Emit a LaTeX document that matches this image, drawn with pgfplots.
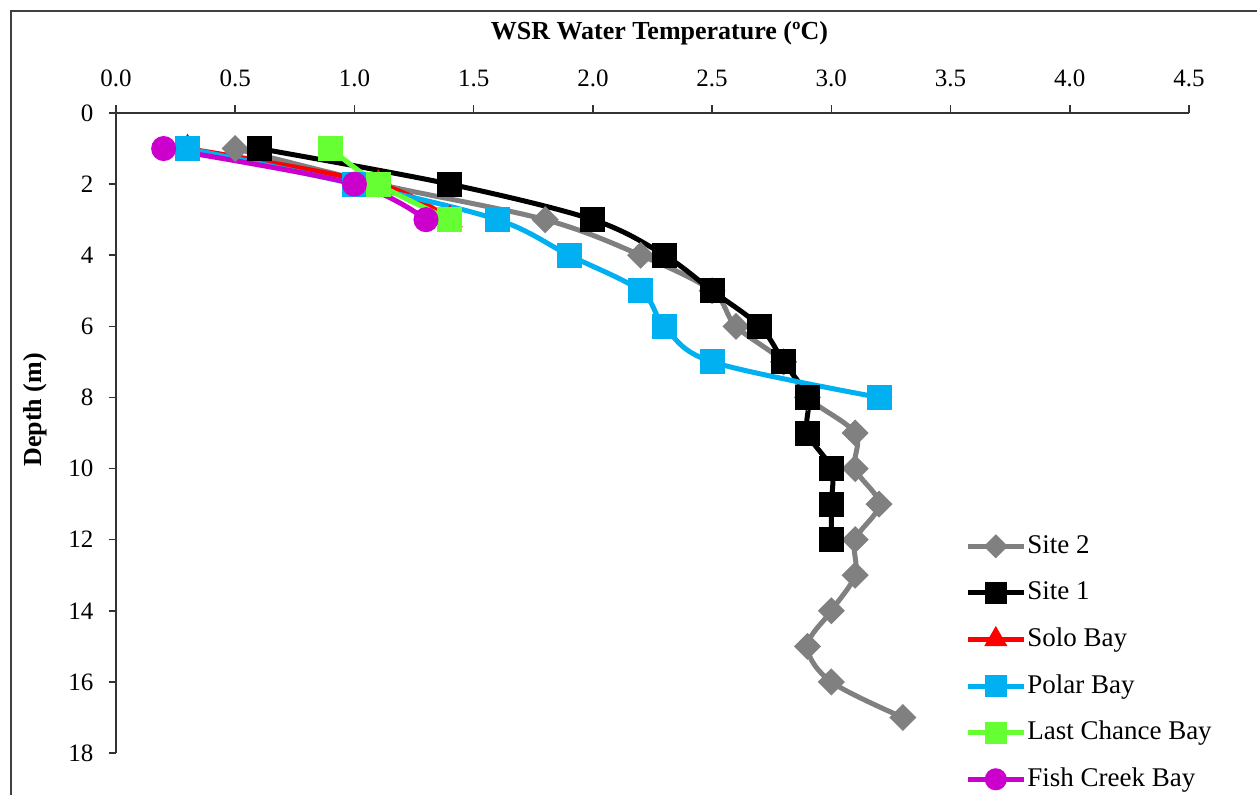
\documentclass[border=0pt]{standalone}
\usepackage{fontspec}
\setmainfont{Liberation Serif}
\usepackage{pgfplots}
\pgfplotsset{compat=1.18}
\definecolor{cgray}{HTML}{808080}
\definecolor{cred}{HTML}{FF0000}
\definecolor{cblue}{HTML}{00B0F0}
\definecolor{cgreen}{HTML}{66FF33}
\definecolor{cmag}{HTML}{CC00CC}
\begin{document}
\begin{tikzpicture}
\useasboundingbox (0,0) rectangle (628.5pt,-397.5pt);
\clip (0,0) rectangle (628.5pt,-397.5pt);
\draw[line width=0.9pt, black!75] (5.5pt,-5.5pt) rectangle (700pt,-500pt);
\begin{axis}[
  at={(58pt,-56.5pt)}, anchor=north west,
  scale only axis, width=536.5pt, height=320pt,
  xmin=0, xmax=4.5, ymin=0, ymax=18,
  y dir=reverse,
  axis x line=top, axis y line=left,
  axis line style={-, line width=0.75pt, black!80},
  xtick={0,0.5,1,1.5,2,2.5,3,3.5,4,4.5},
  ytick={0,2,4,6,8,10,12,14,16,18},
  tick align=outside, major tick length=3.75pt,
  tick style={line width=0.75pt, black!80},
  xticklabel pos=upper,
  xticklabel style={/pgf/number format/fixed, /pgf/number format/fixed zerofill, /pgf/number format/precision=1},
  /pgf/number format/assume math mode=true,
  ticklabel style={font=\fontsize{12.5}{14}\selectfont},
  xticklabel shift=6pt, yticklabel shift=4pt,
  legend style={draw=none, fill=none, at={(axis cs:3.535,11.64)}, anchor=north west,
    font=\fontsize{13.5}{16}\selectfont, row sep=8.3pt,
    nodes={inner ysep=1pt, inner xsep=0.5pt, text height=10pt, text depth=3pt}},
  legend cell align=left,
  legend image code/.code={\draw[mark repeat=2,mark phase=2, every mark/.append style={scale=0.85}] plot coordinates {(0pt,0pt) (14pt,0pt) (28pt,0pt)};},
  every axis plot/.append style={line width=2.5pt, smooth, tension=0.55},
]
\addplot[cgray, mark=square*, mark size=3.54pt, mark options={solid, rotate=45, fill=cgray}] coordinates {
(0.5,1) (1.1,2) (1.8,3) (2.2,4) (2.5,5) (2.6,6) (2.8,7) (2.9,8) (3.1,9) (3.1,10) (3.2,11) (3.1,12) (3.1,13) (3.0,14) (2.9,15) (3.0,16) (3.3,17)};
\addlegendentry{Site 2}
\addplot[black, mark=square*, mark size=5pt, mark options={solid, fill=black}] coordinates {
(0.6,1) (1.4,2) (2.0,3) (2.3,4) (2.5,5) (2.7,6) (2.8,7) (2.9,8) (2.9,9) (3.0,10) (3.0,11) (3.0,12)};
\addlegendentry{Site 1}
\addplot[cred, mark=triangle*, mark size=5pt, mark options={solid, fill=cred}] coordinates {
(0.3,1) (1.1,2) (1.4,3)};
\addlegendentry{Solo Bay}
\addplot[cblue, mark=square*, mark size=5pt, mark options={solid, fill=cblue}] coordinates {
(0.3,1) (1.0,2) (1.6,3) (1.9,4) (2.2,5) (2.3,6) (2.5,7) (3.2,8)};
\addlegendentry{Polar Bay}
\addplot[cgreen, mark=square*, mark size=5pt, mark options={solid, fill=cgreen}] coordinates {
(0.9,1) (1.1,2) (1.4,3)};
\addlegendentry{Last Chance Bay}
\addplot[cmag, mark=*, mark size=5pt, mark options={solid, fill=cmag}] coordinates {
(0.2,1) (1.0,2) (1.3,3)};
\addlegendentry{Fish Creek Bay}
\end{axis}
\node[font=\fontsize{13}{15}\selectfont\bfseries] at (329.75pt,-16.5pt) {WSR Water Temperature (ºC)};
\node[rotate=90, font=\fontsize{13}{15}\selectfont\bfseries] at (17.5pt,-205pt) {Depth (m)};
\end{tikzpicture}
\end{document}
